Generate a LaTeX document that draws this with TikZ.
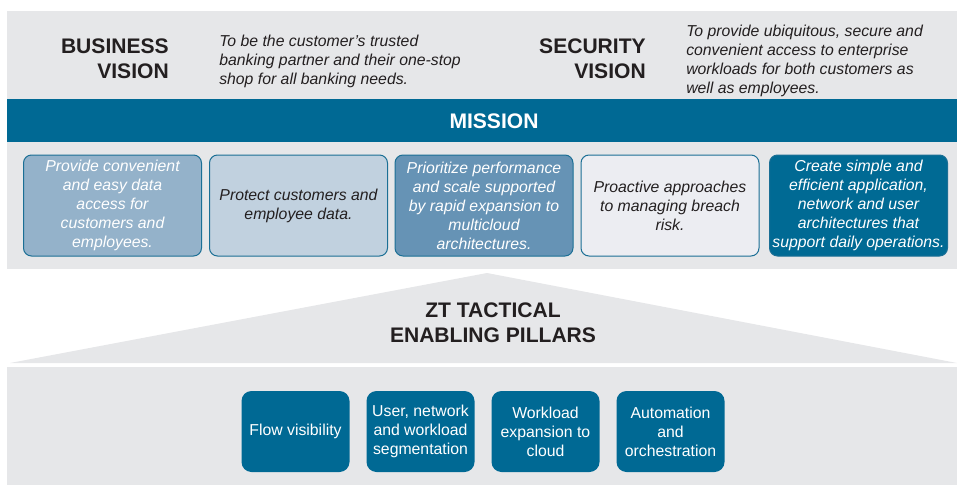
\documentclass[tikz,border=0pt]{standalone}
\usepackage{fontspec}
\setmainfont{Liberation Sans}
\definecolor{bandgray}{HTML}{E6E7E9}
\definecolor{zteal}{HTML}{006994}
\definecolor{boxline}{HTML}{1B6F95}
\definecolor{darktext}{HTML}{231F20}
\definecolor{mfillA}{HTML}{94B2CA}
\definecolor{mfillB}{HTML}{C1D1DF}
\definecolor{mfillC}{HTML}{6693B5}
\definecolor{mfillD}{HTML}{ECEDF2}
\definecolor{mfillE}{HTML}{006A94}
\newcommand{\bodysize}{\fontsize{11.85pt}{14.25pt}\selectfont}
\newcommand{\headsize}{\fontsize{15.8pt}{18.75pt}\selectfont}
\begin{document}
\begin{tikzpicture}[x=0.75pt,y=-0.75pt,
  heading/.style={font=\headsize\bfseries, text=darktext, inner sep=0pt},
  vision/.style={font=\bodysize\itshape, text=darktext, align=left,
    inner sep=0pt, anchor=north west},
  mbox/.style={draw=boxline, line width=0.75pt, rounded corners=6pt,
    minimum width=178*0.75pt, minimum height=101*0.75pt, inner sep=0pt,
    align=center, font=\bodysize\itshape},
  pillar/.style={fill=zteal, rounded corners=7.5pt,
    minimum width=108*0.75pt, minimum height=81*0.75pt, inner sep=0pt,
    align=center, text=white, font=\bodysize}
]
\useasboundingbox (0,0) rectangle (957,485);

% background bands and roof
\fill[bandgray] (7,11) rectangle (957,99);
\fill[zteal] (7,99) rectangle (957,142);
\fill[bandgray] (7,142) rectangle (957,269);
\fill[bandgray] (10,363) -- (487,273) -- (957,363) -- cycle;
\fill[bandgray] (7,367) rectangle (957,485);

% vision row
\node[heading, align=right, anchor=north east] (bizhead) at (169,39)
  {BUSINESS\\VISION};
\node[vision] (biztext) at (219,35)
  {To be the customer’s trusted\\banking partner and their one-stop\\shop for all banking needs.};
\node[heading, align=right, anchor=north east] (sechead) at (646,39)
  {SECURITY\\VISION};
\node[vision] (sectext) at (686,25)
  {To provide ubiquitous, secure and\\convenient access to enterprise\\workloads for both customers as\\well as employees.};

% mission
\node[heading, text=white] (mission) at (494,121) {MISSION};

\node[mbox, fill=mfillA, text=white] (m1) at (112.5,205.5)
  {Provide convenient\\and easy data\\access for\\customers and\\employees.};
\node[mbox, fill=mfillB, text=darktext] (m2) at (298.5,205.5)
  {Protect customers and\\employee data.};
\node[mbox, fill=mfillC, text=white] (m3) at (484,205.5)
  {Prioritize performance\\and scale supported\\by rapid expansion to\\multicloud\\architectures.};
\node[mbox, fill=mfillD, text=darktext] (m4) at (670,205.5)
  {Proactive approaches\\to managing breach\\risk.};
\node[mbox, fill=mfillE, text=white] (m5) at (858.5,205.5)
  {Create simple and\\efficient application,\\network and user\\architectures that\\support daily operations.};

% tactical pillars
\node[heading, align=center] (zt) at (493,323) {ZT TACTICAL\\ENABLING PILLARS};

\node[pillar] (p1) at (295.5,431.5) {Flow visibility};
\node[pillar] (p2) at (420.5,431.5) {User, network\\and workload\\segmentation};
\node[pillar] (p3) at (545.5,431.5) {Workload\\expansion to\\cloud};
\node[pillar] (p4) at (670.5,431.5) {Automation\\and\\orchestration};
\end{tikzpicture}
\end{document}
